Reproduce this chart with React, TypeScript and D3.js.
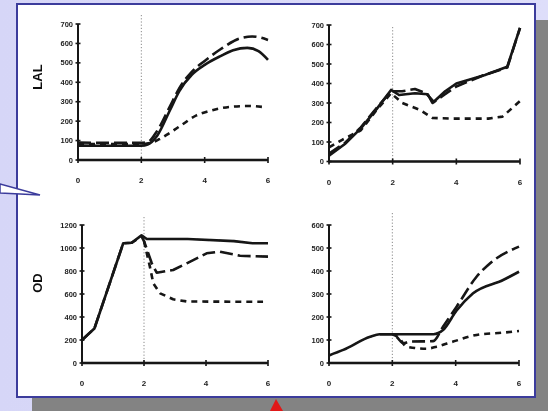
import React from "react";
import * as d3 from "d3";

type Pt = [number, number];

const xTicks = [0, 2, 4, 6];
const lalTicks = [0, 100, 200, 300, 400, 500, 600, 700];
const odLeftTicks = [0, 200, 400, 600, 800, 1000, 1200];
const odRightTicks = [0, 100, 200, 300, 400, 500, 600];

// Top-left (LAL)
const tlSolid: Pt[] = [[0, 74], [1, 73], [2, 74], [2.2, 80], [2.5, 125], [2.9, 255], [3.2, 355], [3.6, 440], [4, 490], [4.5, 535], [4.9, 565], [5.35, 577], [5.7, 560], [6, 515]];
const tlLong: Pt[] = [[0, 90], [1, 88], [2, 88], [2.2, 92], [2.5, 150], [2.9, 275], [3.2, 370], [3.6, 455], [4, 510], [4.5, 570], [5.1, 625], [5.5, 636], [6, 618]];
const tlShort: Pt[] = [[0, 82], [1, 82], [2, 82], [2.3, 88], [2.6, 110], [2.9, 140], [3.27, 180], [3.74, 230], [4.1, 250], [4.9, 275], [5.4, 278], [5.84, 273]];

// Top-right (LAL)
const trSolid: Pt[] = [[0, 30], [0.5, 90], [1, 170], [1.5, 270], [1.95, 367], [2.2, 341], [2.7, 350], [3.1, 345], [3.25, 300], [3.65, 360], [4, 400], [4.9, 444], [5.6, 486], [6, 685]];
const trLong: Pt[] = [[0, 40], [0.5, 95], [1, 175], [1.5, 275], [1.95, 360], [2.3, 360], [2.7, 372], [3.05, 350], [3.3, 305], [3.6, 340], [4, 385], [4.9, 445], [5.6, 482], [6, 685]];
const trShort: Pt[] = [[0, 72], [0.4, 110], [1, 160], [1.5, 265], [1.95, 350], [2.3, 300], [2.85, 265], [3.25, 223], [3.9, 220], [5, 220], [5.45, 230], [6, 310]];

// Bottom-left (OD)
const blSolid: Pt[] = [[0, 200], [0.4, 300], [1.33, 1041], [1.6, 1045], [1.92, 1110], [2.09, 1078], [3.4, 1078], [4.9, 1060], [5.5, 1041], [6, 1041]];
const blLong: Pt[] = [[0, 200], [0.4, 300], [1.33, 1041], [1.6, 1045], [1.92, 1100], [2.0, 1060], [2.25, 867], [2.41, 785], [2.94, 809], [3.38, 867], [4.02, 954], [4.45, 968], [5.1, 932], [6, 925]];
const blShort: Pt[] = [[2.0, 1060], [2.09, 954], [2.19, 838], [2.3, 693], [2.52, 606], [2.94, 554], [3.38, 535], [4.87, 533], [5.84, 533]];

// Bottom-right (OD)
const brSolid: Pt[] = [[0, 33], [0.45, 57], [1.3, 114], [1.6, 125], [2, 125], [3.3, 125], [3.6, 143], [4.03, 228], [4.55, 303], [5.5, 361], [6, 397]];
const brLong: Pt[] = [[1.6, 125], [2, 125], [2.13, 114], [2.35, 86], [2.55, 93], [3.29, 95], [3.6, 158], [4.03, 245], [4.66, 375], [5.08, 433], [6, 506]];
const brShort: Pt[] = [[2, 125], [2.2, 110], [2.45, 71], [3.08, 62], [3.4, 71], [3.92, 93], [4.66, 122], [5.5, 132], [6, 139]];

const INK = "#141414";
const FONT = "'Liberation Sans', Arial, sans-serif";

type Series = { pts: Pt[]; dash?: string };

function Panel(props: {
  x0: number; x1: number; y0: number; y1: number; yMax: number;
  yTicks: number[]; yTickLabels?: string[]; dotTop: number; series: Series[];
  curve?: d3.CurveFactory;
}) {
  const { x0, x1, y0, y1, yMax, yTicks, dotTop, series } = props;
  const x = d3.scaleLinear().domain([0, 6]).range([x0, x1]);
  const y = d3.scaleLinear().domain([0, yMax]).range([y0, y1]);
  const line = d3.line<Pt>().x(d => x(d[0])).y(d => y(d[1])).curve(props.curve || d3.curveMonotoneX);
  return (
    <g>
      <line x1={x(2)} x2={x(2)} y1={dotTop} y2={y(0)} stroke="#8a8a8a" strokeWidth={1} strokeDasharray="1.2,2" />
      {/* y axis */}
      <line x1={x(0)} x2={x(0)} y1={y(0) + 1} y2={y(yMax)} stroke={INK} strokeWidth={2} />
      {yTicks.map(t => (
        <g key={t}>
          <line x1={x(0) - 2.5} x2={x(0) + 2.5} y1={y(t)} y2={y(t)} stroke={INK} strokeWidth={1.6} />
          <text x={x(0) - 5} y={y(t)} dy="0.35em" textAnchor="end" fontFamily={FONT} fontWeight="bold" fontSize={7.5} fill="#222">{t}</text>
        </g>
      ))}
      {/* x axis */}
      <line x1={x(0)} x2={x(6)} y1={y(0)} y2={y(0)} stroke={INK} strokeWidth={2.6} />
      {xTicks.map(t => (
        <g key={t}>
          <line x1={x(t)} x2={x(t)} y1={y(0) - 3} y2={y(0) + 3} stroke={INK} strokeWidth={1.6} />
          <text x={x(t)} y={y(0) + 23} textAnchor="middle" fontFamily={FONT} fontWeight="bold" fontSize={8} fill="#222">{t}</text>
        </g>
      ))}
      {series.map((s, i) => (
        <path key={i} d={line(s.pts) || ""} fill="none" stroke={INK} strokeWidth={2.6} strokeDasharray={s.dash} strokeLinejoin="round" />
      ))}
    </g>
  );
}

const LONG = "13,5";
const SHORT = "6,5";

export default function App() {
  return (
    <svg width={548} height={411} style={{ position: "absolute", left: 0, top: 0 }}>
      <defs>
        <linearGradient id="bg" x1="0" x2="1" y1="0" y2="0">
          <stop offset="0" stopColor="#d6d6f7" />
          <stop offset="1" stopColor="#dedefa" />
        </linearGradient>
        <filter id="soft" x="-5%" y="-5%" width="110%" height="110%">
          <feGaussianBlur stdDeviation="0.45" />
        </filter>
      </defs>
      <rect x={0} y={0} width={548} height={411} fill="url(#bg)" />
      <rect x={32} y={20} width={516} height={391} fill="#838383" />
      <rect x={17} y={4} width={518} height={393} fill="#ffffff" stroke="#3c3c9c" strokeWidth={2} />
      <polygon points="0,184 40,195 0,193" fill="#ffffff" stroke="#3c3c9c" strokeWidth={1.5} strokeLinejoin="miter" />
      <polygon points="276,399 270,411 283,411" fill="#e01818" />
      <g filter="url(#soft)">
        <Panel x0={78} x1={268} y0={160} y1={24} yMax={700} yTicks={lalTicks} dotTop={15}
          series={[{ pts: tlShort, dash: SHORT }, { pts: tlLong, dash: LONG }, { pts: tlSolid }]} />
        <Panel x0={329} x1={520} y0={161.5} y1={25} yMax={700} yTicks={lalTicks} dotTop={27}
          curve={d3.curveLinear}
          series={[{ pts: trShort, dash: SHORT }, { pts: trLong, dash: LONG }, { pts: trSolid }]} />
        <Panel x0={82} x1={268} y0={363} y1={225} yMax={1200} yTicks={odLeftTicks} dotTop={217}
          curve={d3.curveLinear}
          series={[{ pts: blShort, dash: SHORT }, { pts: blLong, dash: LONG }, { pts: blSolid }]} />
        <Panel x0={329} x1={519} y0={363} y1={225} yMax={600} yTicks={odRightTicks} dotTop={213}
          series={[{ pts: brShort, dash: SHORT }, { pts: brLong, dash: LONG }, { pts: brSolid }]} />
        <text transform="translate(42,77) rotate(-90)" textAnchor="middle" fontFamily={FONT} fontWeight="bold" fontSize={13} fill="#111">LAL</text>
        <text transform="translate(42,283) rotate(-90)" textAnchor="middle" fontFamily={FONT} fontWeight="bold" fontSize={13} fill="#111">OD</text>
      </g>
    </svg>
  );
}
